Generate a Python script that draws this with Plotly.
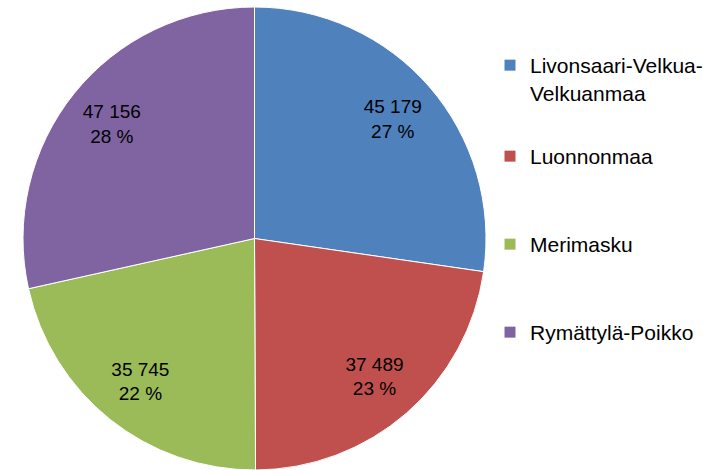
import plotly.graph_objects as go

labels = ["Livonsaari-Velkua-Velkuanmaa", "Luonnonmaa", "Merimasku", "Rymättylä-Poikko"]
legend_labels = ["Livonsaari-Velkua-<br>Velkuanmaa", "Luonnonmaa", "Merimasku", "Rymättylä-Poikko"]
values = [45179, 37489, 35745, 47156]
pct_labels = ["27 %", "23 %", "22 %", "28 %"]
colors = ["#4F81BD", "#C0504D", "#9BBB59", "#8064A2"]

def fmt(v):
    return f"{v:,}".replace(",", " ")

texts = [f"{fmt(v)}<br>{p}" for v, p in zip(values, pct_labels)]

W, H = 716, 470
FONT = "Liberation Sans, Arial, sans-serif"
dom = dict(x=[22 / W, 487 / W], y=[0, 463 / H])

fig = go.Figure()
# filled pie
fig.add_trace(go.Pie(
    labels=labels, values=values, textinfo="none",
    sort=False, direction="clockwise", rotation=0,
    marker=dict(colors=colors, line=dict(color="white", width=1)),
    showlegend=False, hoverinfo="label+value+percent",
    domain=dom,
))
# transparent ring carrying the data labels
fig.add_trace(go.Pie(
    labels=labels, values=values, text=texts, textinfo="text",
    textposition="inside", insidetextorientation="horizontal",
    sort=False, direction="clockwise", rotation=0, hole=0.58,
    marker=dict(colors=["rgba(0,0,0,0)"] * 4, line=dict(width=0)),
    textfont=dict(family=FONT, size=19, color="black"),
    showlegend=False, hoverinfo="skip",
    domain=dom,
))

legend_tops = [45, 136, 224, 312]
legend_keys = ["legend", "legend2", "legend3", "legend4"]
for lab, col, key in zip(legend_labels, colors, legend_keys):
    fig.add_trace(go.Scatter(
        x=[None], y=[None], mode="markers", name=lab,
        marker=dict(symbol="square", size=11, color=col),
        showlegend=True, legend=key,
    ))

layout = dict(
    width=W, height=H,
    margin=dict(l=0, r=0, t=0, b=0),
    paper_bgcolor="white", plot_bgcolor="white",
    xaxis=dict(visible=False), yaxis=dict(visible=False),
)
for key, top in zip(legend_keys, legend_tops):
    layout[key] = dict(
        x=490 / W, y=1 - top / H, xanchor="left", yanchor="top",
        font=dict(family=FONT, size=21, color="black"),
        valign="top", itemwidth=30, bgcolor="rgba(0,0,0,0)",
    )
fig.update_layout(**layout)

fig.write_html("out.html", config={"displayModeBar": False},
               post_script="document.body.style.margin='0';")
